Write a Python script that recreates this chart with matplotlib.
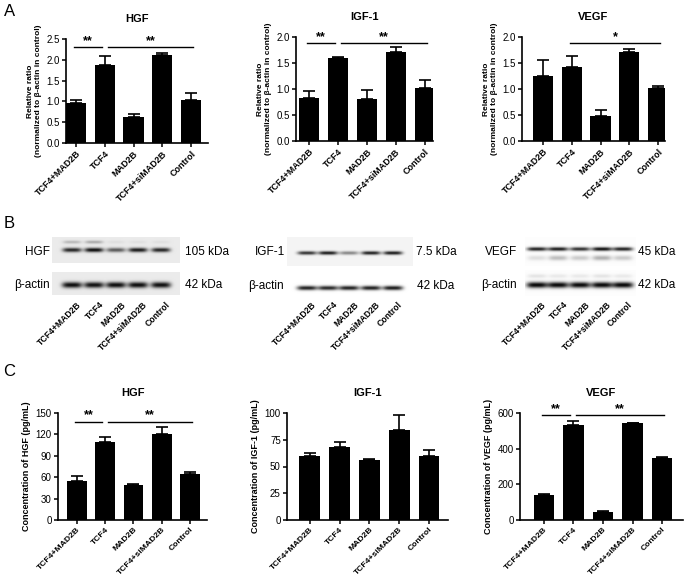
import numpy as np
import matplotlib
matplotlib.use('Agg')
import matplotlib.pyplot as plt

plt.rcParams['font.family'] = ['Liberation Sans', 'DejaVu Sans']

W, H = 685, 578

# Groups
groups = ['TCF4+MAD2B', 'TCF4', 'MAD2B', 'TCF4+siMAD2B', 'Control']

# A: relative ratio (normalized to beta-actin in control), mean and SEM
a_hgf_mean = [0.96, 1.87, 0.62, 2.12, 1.03]
a_hgf_err = [0.08, 0.23, 0.07, 0.04, 0.18]
a_igf_mean = [0.83, 1.60, 0.81, 1.71, 1.02]
a_igf_err = [0.14, 0.02, 0.18, 0.10, 0.15]
a_vegf_mean = [1.25, 1.42, 0.49, 1.72, 1.01]
a_vegf_err = [0.31, 0.21, 0.11, 0.05, 0.05]

# C: ELISA concentrations (pg/mL)
c_hgf_mean = [54, 110, 49, 120.5, 64]
c_hgf_err = [7, 7, 2, 9.5, 3]
c_igf_mean = [59.4, 67.8, 56.2, 84, 59.7]
c_igf_err = [2.8, 5.0, 0.8, 13.8, 5.9]
c_vegf_mean = [141, 530, 47, 542, 347]
c_vegf_err = [5, 27, 2, 3, 7]

# significance: (group a, group b, height, label)
a_hgf_sig = [(0, 1, 2.30, '**'), (1, 4, 2.30, '**')]
a_igf_sig = [(0, 1, 1.89, '**'), (1, 4, 1.89, '**')]
a_vegf_sig = [(1, 4, 1.88, '*')]
c_hgf_sig = [(0, 1, 138, '**'), (1, 4, 138, '**')]
c_igf_sig = []
c_vegf_sig = [(0, 1, 589, '**'), (1, 4, 589, '**')]

# B: band intensities per lane (0 = none, 1 = black)
hgf_band = [0.85, 0.95, 0.62, 0.9, 0.85]
hgf_upper = [0.22, 0.28, 0.05, 0.05, 0.05]
hgf_actin = [0.95, 0.93, 0.95, 0.95, 0.94]
igf_band = [0.8, 0.9, 0.45, 0.88, 0.9]
igf_actin = [0.88, 0.85, 0.88, 0.88, 0.9]
vegf_band = [0.88, 0.9, 0.82, 0.95, 0.88]
vegf_lower = [0.12, 0.25, 0.2, 0.3, 0.2]
vegf_actin = [0.98, 0.97, 0.97, 0.97, 0.98]
vegf_actin_upper = [0.1, 0.08, 0.08, 0.1, 0.08]

fig = plt.figure(figsize=(W / 100, H / 100), dpi=100)


def bar_panel(rect, means, errs, ymax, yticks, ylabel, title, xlim, sig,
              ylabel_fs=6, xlab_fs=6.5):
    x0, y0, x1, y1 = rect
    ax = fig.add_axes([x0 / W, 1 - y1 / H, (x1 - x0) / W, (y1 - y0) / H])
    x = np.arange(len(groups))
    ax.bar(x, means, width=0.7, color='black', zorder=2)
    ax.errorbar(x, means, yerr=[np.zeros(len(means)), errs], fmt='none',
                ecolor='black', elinewidth=1.2, capsize=4.5, capthick=1.2, zorder=1)
    ax.set_xlim(*xlim)
    ax.set_ylim(0, ymax)
    ax.set_yticks(yticks)
    ax.set_xticks(x)
    ax.set_xticklabels(groups, rotation=45, ha='right', rotation_mode='anchor',
                       fontsize=xlab_fs, fontweight='bold')
    ax.tick_params(axis='y', labelsize=7, length=3, width=1.1, pad=1.5)
    ax.tick_params(axis='x', length=3, width=1.1, pad=1.5)
    for s in ['top', 'right']:
        ax.spines[s].set_visible(False)
    for s in ['left', 'bottom']:
        ax.spines[s].set_linewidth(1.2)
    ax.set_ylabel(ylabel, fontsize=ylabel_fs, fontweight='bold', labelpad=3)
    ax.set_title(title, fontsize=8, fontweight='bold', pad=12)
    ends = [p for s in sig for p in (s[0], s[1])]
    for a, b, h, lab in sig:
        left = a + 0.1 if ends.count(a) > 1 else a - 0.07
        right = b - 0.1 if ends.count(b) > 1 else b + 0.07
        ax.plot([left, right], [h, h], color='black', lw=1.0, clip_on=False)
        ax.text((left + right) / 2, h, lab, ha='center', va='bottom',
                fontsize=9, fontweight='bold', clip_on=False)
    return ax


rel_label = 'Relative ratio\n(normalized to β-actin in control)'
bar_panel((66, 39, 208, 143), a_hgf_mean, a_hgf_err, 2.5, np.arange(0, 2.51, 0.5),
          rel_label, 'HGF', (-0.35, 4.59), a_hgf_sig)
bar_panel((296, 37, 433, 141), a_igf_mean, a_igf_err, 2.0, np.arange(0, 2.01, 0.5),
          rel_label, 'IGF-1', (-0.45, 4.28), a_igf_sig)
bar_panel((522, 37, 665, 141), a_vegf_mean, a_vegf_err, 2.0, np.arange(0, 2.01, 0.5),
          rel_label, 'VEGF', (-0.73, 4.24), a_vegf_sig)

bar_panel((58, 413, 207, 520), c_hgf_mean, c_hgf_err, 150, np.arange(0, 151, 30),
          'Concentration of HGF (pg/mL)', 'HGF', (-0.67, 4.6), c_hgf_sig, 6.5, 6.1)
bar_panel((287, 413, 448, 520), c_igf_mean, c_igf_err, 100, np.arange(0, 101, 25),
          'Concentration of IGF-1 (pg/mL)', 'IGF-1', (-0.77, 4.64), c_igf_sig, 6.5, 6.1)
bar_panel((520, 413, 683, 520), c_vegf_mean, c_vegf_err, 600, np.arange(0, 601, 200),
          'Concentration of VEGF (pg/mL)', 'VEGF', (-0.81, 4.71), c_vegf_sig, 6.5, 6.1)

# B: western blots, drawn in pixel coordinates
axb = fig.add_axes([0, 1 - 345 / H, 1, 140 / H])
axb.set_xlim(0, W)
axb.set_ylim(345, 205)
axb.axis('off')


def blot(x0, x1, y0, y1, lanes, rows, bg):
    sc = 4
    nx, ny = int((x1 - x0) * sc), int((y1 - y0) * sc)
    xx = np.linspace(x0, x1, nx)
    yy = np.linspace(y0, y1, ny)
    X, Y = np.meshgrid(xx, yy)
    dark = np.zeros_like(X)
    for yc, vals, hw, hh in rows:
        for xc, v in zip(lanes, vals):
            dark += v * np.exp(-np.abs((X - xc) / hw) ** 4) * np.exp(-((Y - yc) / hh) ** 2)
    img = np.clip(bg * (1 - np.clip(dark, 0, 1)), 0, 1)
    axb.imshow(img, cmap='gray', vmin=0, vmax=1, extent=(x0, x1, y1, y0),
               aspect='auto', interpolation='bilinear')


hgf_lanes = [72, 94, 116, 138, 161]
igf_lanes = [307, 328, 349, 371, 393]
vegf_lanes = [537, 558, 580, 602, 623]

blot(52, 180, 237, 263, hgf_lanes, [(250, hgf_band, 9.5, 2.2), (242, hgf_upper, 9, 1.6)], 0.92)
blot(52, 180, 272, 295, hgf_lanes, [(285, hgf_actin, 10, 3.0)], 0.92)
blot(287, 413, 237, 266, igf_lanes, [(253, igf_band, 9.5, 1.8)], 0.96)
blot(287, 413, 276, 298, igf_lanes, [(288, igf_actin, 10, 2.2)], 1.0)
blot(525, 636, 237, 266, vegf_lanes, [(249, vegf_band, 10, 1.9), (258, vegf_lower, 9.5, 2.5)], 0.99)
blot(525, 636, 270, 296, vegf_lanes, [(285, vegf_actin, 10.5, 3.0), (276, vegf_actin_upper, 9.5, 2)], 0.99)

blot_fs = 8.5
axb.text(50, 252, 'HGF', ha='right', va='center', fontsize=blot_fs)
axb.text(50, 285, 'β-actin', ha='right', va='center', fontsize=blot_fs)
axb.text(185, 252, '105 kDa', ha='left', va='center', fontsize=blot_fs)
axb.text(185, 285, '42 kDa', ha='left', va='center', fontsize=blot_fs)
axb.text(285, 252, 'IGF-1', ha='right', va='center', fontsize=blot_fs)
axb.text(284, 286, 'β-actin', ha='right', va='center', fontsize=blot_fs)
axb.text(416, 252, '7.5 kDa', ha='left', va='center', fontsize=blot_fs)
axb.text(417, 286, '42 kDa', ha='left', va='center', fontsize=blot_fs)
axb.text(517, 252, 'VEGF', ha='right', va='center', fontsize=blot_fs)
axb.text(517, 285, 'β-actin', ha='right', va='center', fontsize=blot_fs)
axb.text(638, 252, '45 kDa', ha='left', va='center', fontsize=blot_fs)
axb.text(638, 285, '42 kDa', ha='left', va='center', fontsize=blot_fs)

for lanes in (hgf_lanes, igf_lanes, vegf_lanes):
    for xc, g in zip(lanes, groups):
        axb.text(xc + 5, 300, g, rotation=45, ha='right', va='top',
                 rotation_mode='anchor', fontsize=6.2, fontweight='bold')

# panel letters
for lab, (px, py) in zip(['A', 'B', 'C'], [(10, 11), (9, 224), (9, 371)]):
    fig.text(px / W, 1 - py / H, lab, fontsize=12, ha='center', va='center')

fig.savefig('out.png', dpi=100)
